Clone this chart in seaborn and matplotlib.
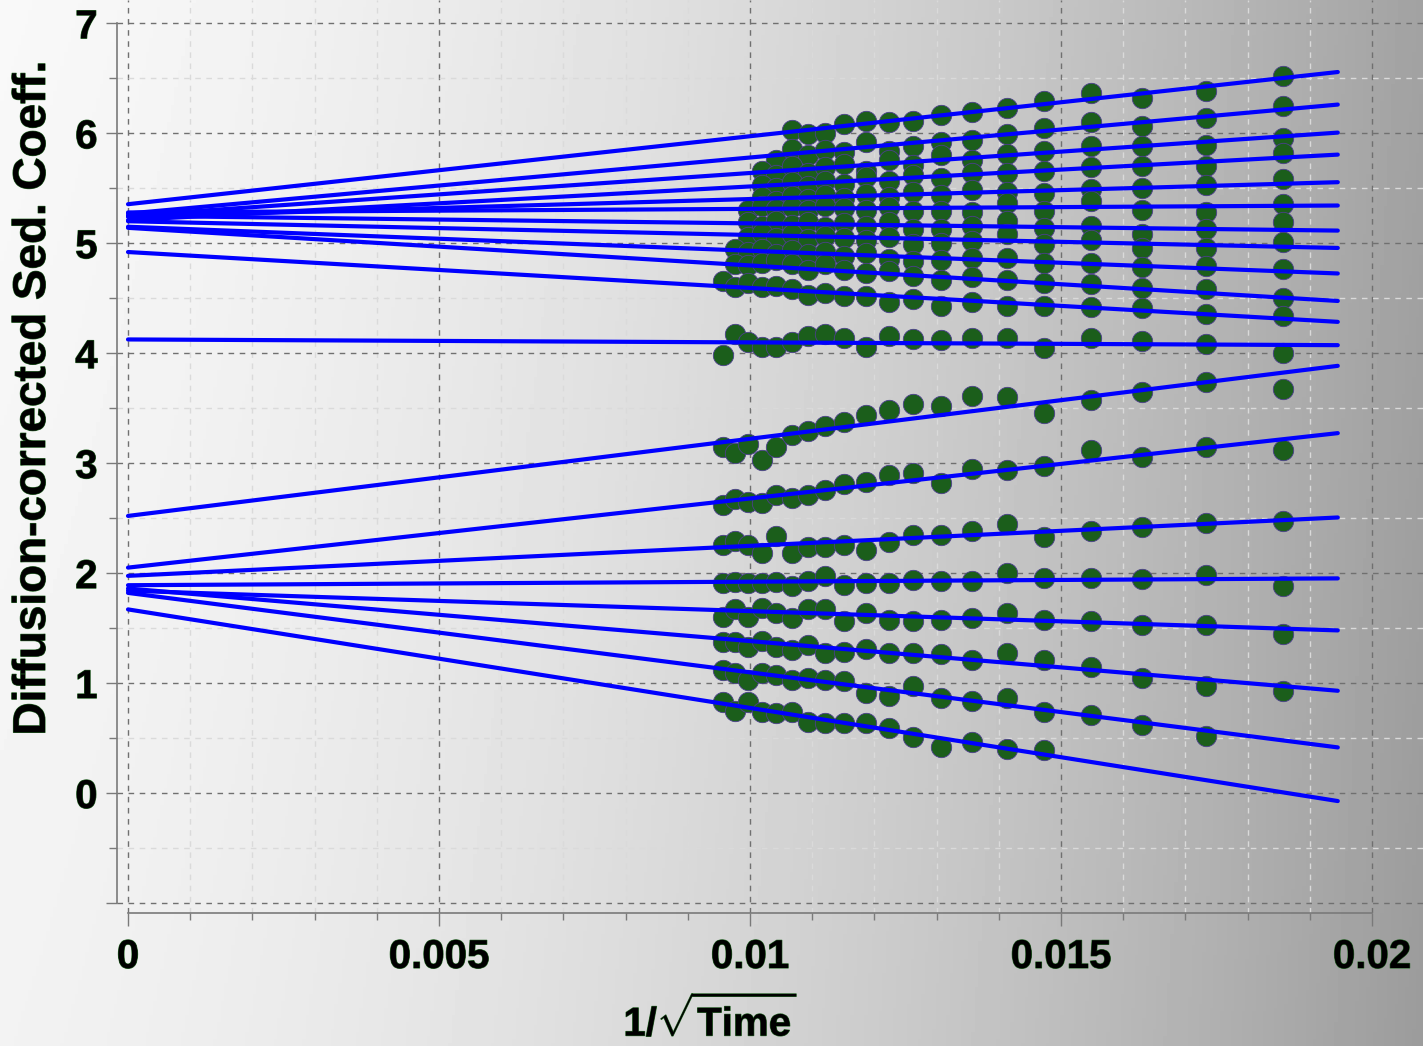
import numpy as np
import pandas as pd
import seaborn as sns
import matplotlib.pyplot as plt
import matplotlib.patheffects as pe
from matplotlib.ticker import MultipleLocator, FuncFormatter

nan = np.nan

# scan positions on the 1/sqrt(t) axis
scan_x = [0.009566, 0.009759, 0.009968, 0.010193, 0.010418, 0.010675, 0.010932,
          0.011206, 0.011511, 0.011865, 0.012235, 0.012621, 0.013071, 0.013569,
          0.014132, 0.014727, 0.015482, 0.016302, 0.017331, 0.018569]

# boundary fractions, top to bottom (one value per scan, nan = no point)
frac01 = [nan, nan, nan, nan, nan, 6.03, 5.99, 6.00, 6.08, 6.11, 6.10, 6.11, 6.17, 6.19, 6.23, 6.29, 6.37, 6.32, 6.38, 6.52]
frac02 = [nan, nan, nan, nan, 5.76, 5.86, 5.80, 5.85, 5.83, 5.92, 5.84, 5.88, 5.92, 5.94, 5.99, 6.05, 6.10, 6.07, 6.14, 6.25]
frac03 = [nan, nan, nan, 5.66, 5.62, 5.70, 5.64, 5.69, 5.72, 5.66, 5.76, 5.71, 5.80, 5.76, 5.81, 5.84, 5.88, 5.88, 5.89, 5.96]
frac04 = [nan, nan, nan, 5.53, 5.50, 5.56, 5.52, 5.57, 5.54, 5.60, 5.57, 5.62, 5.59, 5.64, 5.64, 5.66, 5.69, 5.70, 5.70, 5.82]
frac05 = [nan, nan, nan, 5.42, 5.38, 5.43, 5.40, 5.44, 5.41, 5.45, 5.42, 5.47, 5.44, 5.48, 5.47, 5.46, 5.49, 5.50, 5.53, 5.58]
frac06 = [nan, nan, 5.30, 5.34, 5.31, 5.33, 5.30, 5.34, 5.32, 5.30, 5.33, 5.29, 5.29, 5.28, 5.37, 5.29, 5.38, 5.30, 5.28, 5.36]
frac07 = [nan, nan, 5.19, 5.16, 5.20, 5.17, 5.19, 5.15, 5.18, 5.16, 5.19, 5.13, 5.13, 5.16, 5.20, 5.14, 5.16, 5.08, 5.13, 5.19]
frac08 = [nan, nan, 5.06, 5.09, 5.05, 5.08, 5.04, 5.07, 5.05, 5.03, 5.06, 4.99, 5.00, 5.02, 5.08, 4.99, 5.03, 4.96, 4.96, 5.01]
frac09 = [nan, 4.95, 4.92, 4.95, 4.90, 4.94, 4.90, 4.92, 4.88, 4.91, 4.86, 4.84, 4.85, 4.87, 4.87, 4.82, 4.82, 4.78, 4.79, 4.77]
frac10 = [nan, 4.81, 4.80, 4.82, 4.85, 4.81, 4.76, 4.81, 4.76, 4.73, 4.75, 4.70, 4.67, 4.69, 4.67, 4.64, 4.63, 4.59, 4.58, 4.50]
frac11 = [4.66, 4.60, 4.64, 4.60, 4.61, 4.58, 4.53, 4.55, 4.52, 4.52, 4.47, 4.49, 4.43, 4.47, 4.43, 4.43, 4.42, 4.41, 4.36, 4.34]
frac12 = [3.98, 4.17, 4.10, 4.06, 4.06, 4.10, 4.16, 4.17, 4.14, 4.06, 4.16, 4.13, 4.12, 4.14, 4.14, 4.05, 4.14, 4.11, 4.08, 4.00]
frac13 = [3.15, 3.09, 3.17, 3.03, 3.15, 3.26, 3.29, 3.34, 3.37, 3.44, 3.48, 3.54, 3.52, 3.61, 3.60, 3.46, 3.57, 3.65, 3.74, 3.67]
frac14 = [2.62, 2.67, 2.65, 2.64, 2.71, 2.68, 2.71, 2.76, 2.81, 2.83, 2.89, 2.91, 2.82, 2.95, 2.94, 2.97, 3.12, 3.06, 3.15, 3.12]
frac15 = [2.26, 2.29, 2.26, 2.18, 2.34, 2.18, 2.24, 2.24, 2.26, 2.21, 2.28, 2.35, 2.35, 2.38, 2.45, 2.33, 2.38, 2.42, 2.46, 2.47]
frac16 = [1.91, 1.92, 1.91, 1.91, 1.92, 1.88, 1.93, 1.97, 1.89, 1.91, 1.91, 1.94, 1.93, 1.93, 2.00, 1.96, 1.96, 1.95, 1.98, 1.88]
frac17 = [1.60, 1.67, 1.60, 1.68, 1.64, 1.59, 1.67, 1.67, 1.56, 1.64, 1.57, 1.56, 1.57, 1.59, 1.64, 1.57, 1.56, 1.53, 1.53, 1.45]
frac18 = [1.37, 1.37, 1.33, 1.38, 1.33, 1.30, 1.35, 1.27, 1.28, 1.31, 1.27, 1.27, 1.26, 1.21, 1.27, 1.21, 1.15, 1.05, 0.97, 0.93]
frac19 = [1.12, 1.09, 1.03, 1.09, 1.07, 1.03, 1.05, 1.03, 1.02, 0.91, 0.88, 0.97, 0.86, 0.84, 0.86, 0.74, 0.71, 0.62, 0.52, nan]
frac20 = [0.83, 0.75, 0.83, 0.74, 0.73, 0.74, 0.65, 0.64, 0.64, 0.64, 0.59, 0.51, 0.42, 0.46, 0.40, 0.39, nan, nan, nan, nan]

fractions = [frac01, frac02, frac03, frac04, frac05, frac06, frac07, frac08, frac09, frac10,
             frac11, frac12, frac13, frac14, frac15, frac16, frac17, frac18, frac19, frac20]

# linear fits (y = intercept + slope * x), drawn from x=0 to fit_x_end
fit_intercept = [5.355, 5.27, 5.25, 5.21, 5.24, 5.28, 5.25, 5.20, 5.15, 5.14,
                 4.92, 4.125, 2.52, 2.05, 1.975, 1.89, 1.84, 1.86, 1.82, 1.67]
fit_slope = [61.80, 50.95, 38.87, 30.64, 16.20, 3.24, -6.94, -12.49, -21.85, -34.19,
             -32.65, -2.67, 70.18, 62.88, 27.30, 3.19, -18.56, -47.81, -72.24, -89.61]
fit_x_end = 0.01945

pts = pd.DataFrame([(i, x, y) for i, ys in enumerate(fractions)
                    for x, y in zip(scan_x, ys) if not np.isnan(y)],
                   columns=["frac", "x", "y"])
fits = pd.DataFrame([(i, x, b + m * x) for i, (b, m) in enumerate(zip(fit_intercept, fit_slope))
                     for x in (0.0, fit_x_end)],
                    columns=["frac", "x", "y"])

sns.set_style("ticks")
plt.rcParams['font.family'] = ['Liberation Sans', 'DejaVu Sans']
plt.rcParams['font.weight'] = 'bold'
plt.rcParams['mathtext.fontset'] = 'custom'
plt.rcParams['mathtext.rm'] = 'Liberation Sans:bold'
plt.rcParams['mathtext.bf'] = 'Liberation Sans:bold'

W, H = 1423, 1046
fig = plt.figure(figsize=(W / 100, H / 100), dpi=100)

# grey gradient background
bg = fig.add_axes([0, 0, 1, 1], zorder=-10)
gx, gy = np.meshgrid(np.linspace(0, 1, 400), np.linspace(0, 1, 300))
grad = 0.975 - 0.10 * gx - 0.24 * gx ** 2 - 0.025 * gy
bg.imshow(grad, cmap="gray", vmin=0, vmax=1, aspect="auto", extent=[0, 1, 0, 1], origin="upper")
bg.axis("off")

ax = fig.add_axes([117 / W, 133 / H, (W - 117) / W, 913 / H])
ax.patch.set_alpha(0)

sns.scatterplot(data=pts, x="x", y="y", color="#1b5e1b", s=215, edgecolor="#4b3f8c",
                linewidth=0.6, ax=ax, zorder=3, legend=False)
sns.lineplot(data=fits, x="x", y="y", units="frac", estimator=None, sort=False,
             color="#0000ff", linewidth=3.0, ax=ax, zorder=4, legend=False)

ax.set_xlim(-0.000177, 0.02082)
ax.set_ylim(-1.091, 7.212)
ax.xaxis.set_major_locator(MultipleLocator(0.005))
ax.xaxis.set_minor_locator(MultipleLocator(0.001))
ax.yaxis.set_major_locator(MultipleLocator(1))
ax.yaxis.set_minor_locator(MultipleLocator(0.5))
ax.xaxis.set_major_formatter(FuncFormatter(lambda v, p: "0" if abs(v) < 1e-9 else ("%g" % round(v, 4))))
ax.yaxis.set_major_formatter(FuncFormatter(lambda v, p: "" if v < -0.5 else "%d" % round(v)))

ax.grid(which="major", color="#707070", linestyle=(0, (4, 4)), linewidth=1.0)
ax.grid(which="minor", color="#dadada", linestyle=(0, (4, 4)), linewidth=1.0)
ax.set_axisbelow(True)

for s in ("top", "right"):
    ax.spines[s].set_visible(False)
ax.spines["left"].set_bounds(-1, 7)
ax.spines["bottom"].set_bounds(0, 0.02)
for s in ("left", "bottom"):
    ax.spines[s].set_color("#7a7a7a")
    ax.spines[s].set_linewidth(1.2)

ax.tick_params(axis="y", which="major", length=8, width=1, color="#7a7a7a", pad=6,
               labelsize=29, labelcolor="black")
ax.tick_params(axis="y", which="minor", length=6, width=1, color="#7a7a7a")
ax.tick_params(axis="x", which="major", length=9, width=1, color="#7a7a7a", pad=9,
               labelsize=29, labelcolor="black")
ax.tick_params(axis="x", which="minor", length=5, width=1, color="#7a7a7a")
ax.set_xlabel("")
ax.set_ylabel("")

stroke = [pe.withStroke(linewidth=0.8, foreground="#2a6a2a")]
for lbl in ax.get_xticklabels() + ax.get_yticklabels():
    lbl.set_fontweight("bold")
    lbl.set_path_effects(stroke)

fig.text(33 / W, 1 - 398 / H, "Diffusion-corrected Sed. Coeff.", rotation=90, color="black",
         ha="center", va="center", fontsize=33, fontweight="bold", path_effects=stroke)
fig.text(711 / W, 1 - 1018 / H, r"$\mathbf{1/}\sqrt{\mathbf{Time}}$", color="black",
         ha="center", va="center", fontsize=29, path_effects=stroke)

fig.savefig("out.png", dpi=100)
